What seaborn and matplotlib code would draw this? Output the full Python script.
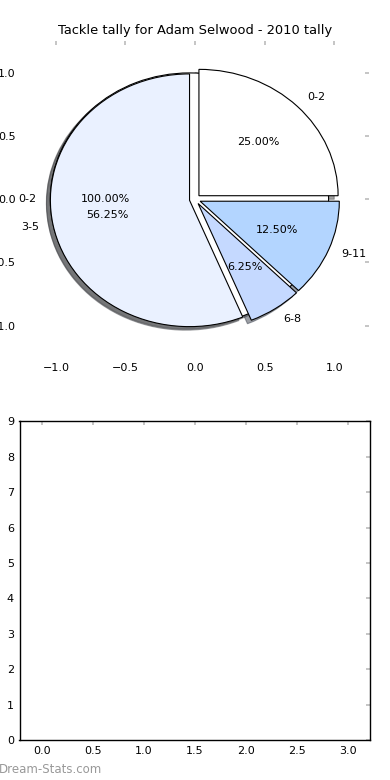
import matplotlib
matplotlib.use("Agg")
import matplotlib.pyplot as plt
import seaborn as sns

# Data
title = "Tackle tally for Adam Selwood - 2010 tally"
categories = ["0-2", "3-5", "6-8", "9-11"]
counts = [4, 9, 1, 2]
slice_colors = ["#ffffff", "#eaf1ff", "#c5d9ff", "#b3d5ff"]
base_labels = ["0-2"]
base_counts = [1]
pie_ticks = [-1.0, -0.5, 0.0, 0.5, 1.0]
bottom_xticks = [0.0, 0.5, 1.0, 1.5, 2.0, 2.5, 3.0]
bottom_yticks = [0, 1, 2, 3, 4, 5, 6, 7, 8, 9]
watermark = "Dream-Stats.com"

sns.set_theme(style="white")
plt.rcParams["font.family"] = ["DejaVu Sans"]
plt.rcParams.update({
    "text.color": "black", "axes.labelcolor": "black", "axes.titlecolor": "black",
    "xtick.direction": "in", "ytick.direction": "in",
    "xtick.top": True, "ytick.right": True,
    "xtick.color": "#bbbbbb", "ytick.color": "#bbbbbb",
    "xtick.labelcolor": "black", "ytick.labelcolor": "black",
    "xtick.major.size": 3, "ytick.major.size": 3,
    "xtick.major.width": 1.2, "ytick.major.width": 1.2,
    "xtick.labelsize": 8, "ytick.labelsize": 8,
    "xtick.major.pad": 4, "ytick.major.pad": 4,
})

fig = plt.figure(figsize=(3.9, 7.8), dpi=100)
ax1 = fig.add_axes([0.054, 0.542, 0.892, 0.405])
ax2 = fig.add_axes([0.05, 0.051, 0.899, 0.409])

# base full pie (mostly hidden)
ax1.pie(base_counts, labels=base_labels, autopct="%1.2f%%", colors=["#ffffff"],
        explode=[0.04], shadow=True, frame=True,
        wedgeprops=dict(edgecolor="black", linewidth=0.8),
        textprops=dict(fontsize=8, color="black"))
ax1.pie(counts, labels=categories, autopct="%1.2f%%", colors=slice_colors,
        explode=[0.04] * len(counts), shadow=True, frame=True,
        wedgeprops=dict(edgecolor="black", linewidth=0.8),
        textprops=dict(fontsize=8, color="black"))
ax1.set_aspect("auto")
ax1.set_xlim(-1.25, 1.25)
ax1.set_ylim(-1.25, 1.25)
ax1.set_xticks(pie_ticks)
ax1.set_yticks(pie_ticks)
for s in ax1.spines.values():
    s.set_visible(False)
ax1.set_title(title, fontsize=9.4, pad=5, color="black")

ax2.set_xlim(-0.22, 3.22)
ax2.set_ylim(0, 9)
ax2.set_xticks(bottom_xticks)
ax2.set_yticks(bottom_yticks)
for s in ax2.spines.values():
    s.set_visible(True)
    s.set_color("black")
    s.set_linewidth(1.0)

fig.text(-0.004, 0.013, watermark, color="#999999", fontsize=8.5, va="center", ha="left")

fig.savefig("out.png", dpi=100)
